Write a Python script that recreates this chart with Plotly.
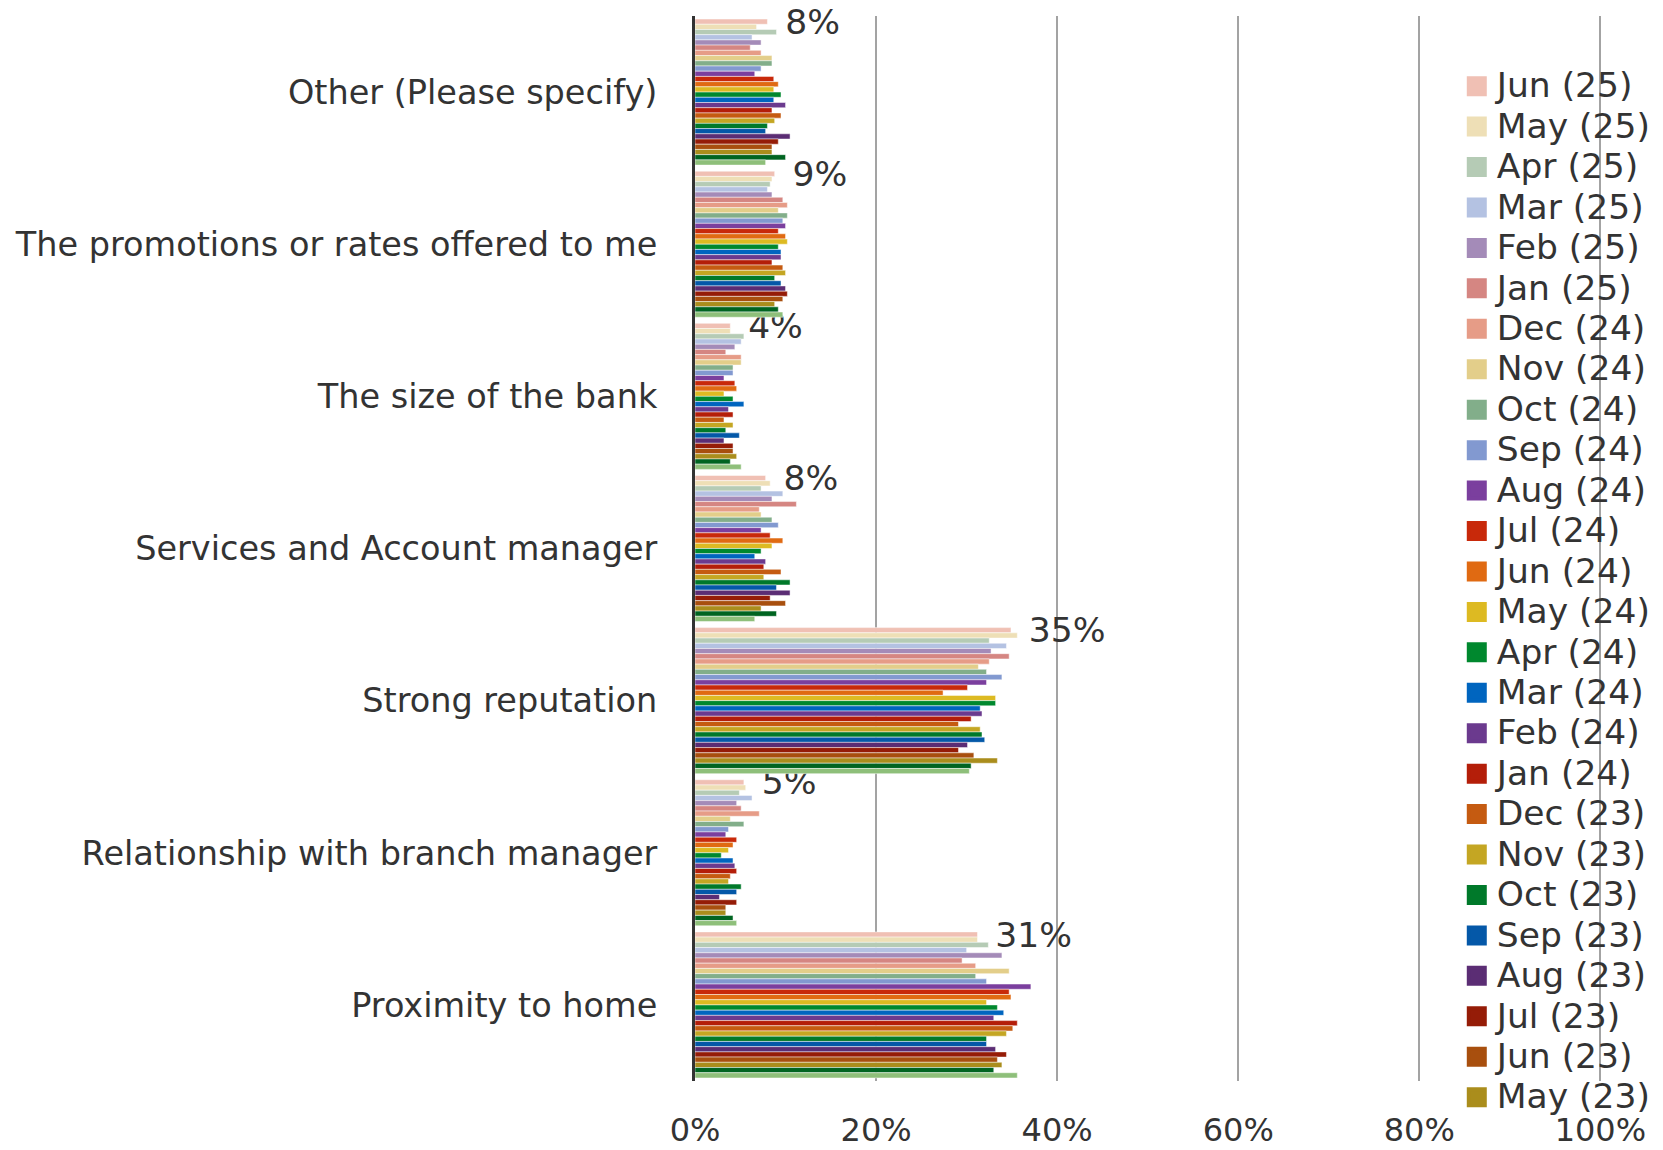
import plotly.graph_objects as go

categories = [
    "Other (Please specify)",
    "The promotions or rates offered to me",
    "The size of the bank",
    "Services and Account manager",
    "Strong reputation",
    "Relationship with branch manager",
    "Proximity to home",
]

series_names = [
    "Jun (25)", "May (25)", "Apr (25)", "Mar (25)", "Feb (25)", "Jan (25)",
    "Dec (24)", "Nov (24)", "Oct (24)", "Sep (24)", "Aug (24)", "Jul (24)",
    "Jun (24)", "May (24)", "Apr (24)", "Mar (24)", "Feb (24)", "Jan (24)",
    "Dec (23)", "Nov (23)", "Oct (23)", "Sep (23)", "Aug (23)", "Jul (23)",
    "Jun (23)", "May (23)", "Apr (23)", "Mar (23)",
]

series_colors = [
    "#F0C0B4", "#EEDFB6", "#B5CBB5", "#B4C2E2", "#A48BB8", "#D58682",
    "#E69C87", "#E3CE8A", "#82AE8A", "#8299D0", "#7B3F9E", "#C8290A",
    "#E06A12", "#DDBA22", "#00882E", "#0065BF", "#6B3A8E", "#B41E09",
    "#C55B11", "#C4A623", "#00792A", "#0458A8", "#5B2D74", "#951C07",
    "#A84F0E", "#AA8D1C", "#006421", "#8EBF7A",
]

# values (%) per category, one entry per series (Jun 25 ... Mar 23)
other = [8.0, 6.8, 9.0, 6.3, 7.3, 6.1, 7.3, 8.5, 8.5, 7.3, 6.6, 8.7, 9.2, 8.7,
         9.5, 8.7, 10.0, 8.5, 9.5, 8.8, 8.0, 7.8, 10.5, 9.2, 8.5, 8.5, 10.0, 7.8]
promotions = [8.8, 8.5, 8.3, 8.0, 8.5, 9.7, 10.2, 9.2, 10.2, 9.7, 10.0, 9.2, 10.0, 10.2,
              9.2, 9.5, 9.5, 8.5, 9.7, 10.0, 8.8, 9.5, 10.0, 10.2, 9.7, 8.8, 9.2, 9.7]
bank_size = [3.9, 3.9, 5.4, 5.1, 4.4, 3.4, 5.1, 5.1, 4.2, 4.2, 3.2, 4.4, 4.6, 3.2,
             4.2, 5.4, 3.7, 4.2, 3.2, 4.2, 3.4, 4.9, 3.2, 4.2, 4.2, 4.6, 3.9, 5.1]
services = [7.8, 8.3, 7.3, 9.7, 8.5, 11.2, 7.1, 7.3, 8.5, 9.2, 7.3, 8.3, 9.7, 8.5,
            7.3, 6.6, 7.8, 7.6, 9.5, 7.6, 10.5, 9.0, 10.5, 8.3, 10.0, 7.3, 9.0, 6.6]
reputation = [34.9, 35.6, 32.5, 34.4, 32.7, 34.7, 32.5, 31.3, 32.2, 33.9, 32.2, 30.1, 27.4, 33.2,
              33.2, 31.5, 31.7, 30.5, 29.1, 31.5, 31.7, 32.0, 30.1, 29.1, 30.8, 33.4, 30.5, 30.3]
relationship = [5.4, 5.6, 4.9, 6.3, 4.6, 5.1, 7.1, 3.9, 5.4, 3.7, 3.4, 4.6, 4.2, 3.7,
                2.9, 4.2, 4.4, 4.6, 3.9, 3.7, 5.1, 4.6, 2.7, 4.6, 3.4, 3.4, 4.2, 4.6]
proximity = [31.2, 31.2, 32.4, 30.0, 33.9, 29.5, 31.0, 34.7, 31.0, 32.2, 37.1, 34.7, 34.9, 32.2,
             33.4, 34.1, 33.0, 35.6, 35.1, 34.4, 32.2, 32.2, 33.2, 34.4, 33.4, 33.9, 33.0, 35.6]

x_ticks = [0, 0.2, 0.4, 0.6, 0.8, 1.0]
x_tick_labels = ["0%", "20%", "40%", "60%", "80%", "100%"]

# number of legend entries visible in the original (legend is cut off)
legend_visible = 26

FONT = "DejaVu Sans"
TEXT_COLOR = "#333333"

by_category = [other, promotions, bank_size, services, reputation, relationship, proximity]

fig = go.Figure()

for i, (name, color) in enumerate(zip(series_names, series_colors)):
    vals = [cat[i] / 100 for cat in by_category]
    trace = dict(
        x=vals,
        y=categories,
        orientation="h",
        name=name,
        legendgroup=name,
        showlegend=False,
        marker=dict(color=color, line=dict(color="rgba(255,255,255,0.8)", width=0.6)),
        hoverinfo="x+name",
    )
    if i == 0:
        trace.update(
            texttemplate="\u00a0\u200a\u200a%{x:.0%}",
            textposition="outside",
            textfont=dict(size=34.5, color=TEXT_COLOR, family=FONT),
            constraintext="none",
            cliponaxis=False,
        )
    fig.add_trace(go.Bar(**trace))

# legend-only entries (larger swatches)
for i, (name, color) in enumerate(zip(series_names, series_colors)):
    if i >= legend_visible:
        continue
    fig.add_trace(go.Scatter(
        x=[None], y=[None], mode="markers",
        name='<span style="font-size:34.5px">' + name + "</span>",
        legendgroup=name,
        marker=dict(symbol="square", size=16, color=color, line=dict(color=color, width=4)),
        showlegend=True, hoverinfo="skip",
    ))

fig.update_layout(
    width=1663,
    height=1150,
    margin=dict(l=695, r=59, t=16, b=69, autoexpand=False),
    paper_bgcolor="white",
    plot_bgcolor="white",
    barmode="group",
    bargap=0.04,
    bargroupgap=0,
    font=dict(family=FONT, size=33, color=TEXT_COLOR),
    showlegend=True,
    legend=dict(
        xref="container", yref="container",
        x=0.876, y=0.947, xanchor="left", yanchor="top",
        bgcolor="rgba(0,0,0,0)",
        font=dict(size=28.8, family=FONT, color=TEXT_COLOR),
        traceorder="normal",
        maxheight=1120,
        itemclick=False, itemdoubleclick=False,
    ),
    xaxis=dict(
        range=[0, 1.004],
        tickvals=x_ticks,
        ticktext=x_tick_labels,
        showgrid=True,
        gridcolor="#A3A3A3",
        gridwidth=2,
        zeroline=False,
        showline=False,
        ticks="",
        ticklabelstandoff=27,
        tickfont=dict(size=32, family=FONT, color=TEXT_COLOR),
    ),
    yaxis=dict(
        type="category",
        categoryorder="array",
        categoryarray=categories,
        autorange="reversed",
        showgrid=False,
        zeroline=False,
        showline=True,
        linecolor="#333333",
        linewidth=3,
        ticks="",
        ticklabelstandoff=28,
        tickfont=dict(size=33.5, family=FONT, color=TEXT_COLOR),
    ),
)

fig.write_html(
    "out.html",
    config={"displayModeBar": False},
    post_script="document.body.style.margin='0';",
)
